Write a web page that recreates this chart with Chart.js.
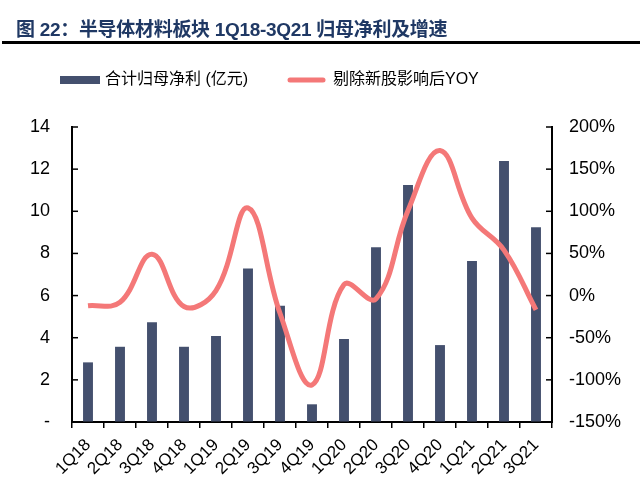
<!DOCTYPE html>
<html>
<head>
<meta charset="utf-8">
<script src="https://cdn.jsdelivr.net/npm/chart.js@4.4.3/dist/chart.umd.min.js"></script>
<style>
  body { margin: 0; background: #fff; }
  #wrap { position: relative; width: 640px; height: 494px; }
  #title {
    position: absolute; left: 16px; top: 14px;
    font: bold 19px "Liberation Sans", "Noto Sans CJK SC", sans-serif;
    letter-spacing: -0.3px;
    color: #1F3864; white-space: nowrap;
  }
  #rule { position: absolute; left: 2px; right: 0; top: 41px; height: 3px; background: #000; }
  canvas { position: absolute; left: 0; top: 0; }
</style>
</head>
<body>
<div id="wrap">
  <canvas id="myChart" width="640" height="494"></canvas>
  <div id="title">图 22：半导体材料板块 1Q18-3Q21 归母净利及增速</div>
  <div id="rule"></div>
</div>
<script>
const quarters = ['1Q18', '2Q18', '3Q18', '4Q18', '1Q19', '2Q19', '3Q19', '4Q19',
  '1Q20', '2Q20', '3Q20', '4Q20', '1Q21', '2Q21', '3Q21']
const profit = [2.83, 3.57, 4.73, 3.57, 4.08, 7.29, 5.52, 0.84, 3.94, 8.29, 11.25, 3.65, 7.64, 12.39, 9.24]
const yoy = [-12, -8, 49, -13, 6, 104, -21, -106, 13, -4, 101, 172, 92, 54, -17]
const leftTicks = [0, 2, 4, 6, 8, 10, 12, 14]
const rightTicks = [-150, -100, -50, 0, 50, 100, 150, 200]

const barColor = '#44506E'
const lineColor = '#F47878'
const font = '"Liberation Sans", Arial, sans-serif'

// legend drawn at fixed place, like the original
const legendPlugin = {
  id: 'fixedLegend',
  afterDraw(chart) {
    const ctx = chart.ctx
    const ds = chart.data.datasets
    ctx.save()
    ctx.font = '16px "Liberation Sans", "Noto Sans CJK SC", sans-serif'
    ctx.textBaseline = 'middle'
    ctx.fillStyle = barColor
    ctx.fillRect(60, 76, 40, 8)
    ctx.fillStyle = '#000'
    ctx.fillText(ds[0].label, 105, 80)
    ctx.strokeStyle = lineColor
    ctx.lineWidth = 5
    ctx.lineCap = 'round'
    ctx.beginPath()
    ctx.moveTo(290, 80)
    ctx.lineTo(323, 80)
    ctx.stroke()
    ctx.fillText(ds[1].label, 333, 80)
    ctx.restore()
  }
}

// short inward tick marks on both value axes
const innerTicks = {
  id: 'innerTicks',
  afterDraw(chart) {
    const ctx = chart.ctx
    const area = chart.chartArea
    ctx.save()
    ctx.strokeStyle = '#000'
    ctx.lineWidth = 1.5
    chart.scales.y.ticks.forEach(t => {
      const py = chart.scales.y.getPixelForValue(t.value)
      ctx.beginPath(); ctx.moveTo(area.left, py); ctx.lineTo(area.left + 6, py); ctx.stroke()
    })
    chart.scales.y1.ticks.forEach(t => {
      const py = chart.scales.y1.getPixelForValue(t.value)
      ctx.beginPath(); ctx.moveTo(area.right, py); ctx.lineTo(area.right - 6, py); ctx.stroke()
    })
    ctx.restore()
  }
}

const data = {
  labels: quarters,
  datasets: [{
    type: 'bar',
    label: '合计归母净利 (亿元)',
    data: profit,
    backgroundColor: barColor,
    categoryPercentage: 1,
    barPercentage: 0.31,
    yAxisID: 'y',
    order: 2
  }, {
    type: 'line',
    label: '剔除新股影响后YOY',
    data: yoy,
    borderColor: lineColor,
    backgroundColor: lineColor,
    borderWidth: 5,
    pointRadius: 0,
    tension: 0.4,
    yAxisID: 'y1',
    order: 1
  }]
}

const config = {
  data: data,
  plugins: [legendPlugin, innerTicks],
  options: {
    responsive: false,
    animation: false,
    layout: { padding: { top: 127, left: 0, right: 0, bottom: 0 } },
    plugins: { legend: { display: false }, tooltip: { enabled: false } },
    scales: {
      x: {
        grid: { display: true, drawOnChartArea: false, color: '#000', lineWidth: 1.5, tickLength: 6, offset: true },
        border: { color: '#000', width: 2 },
        ticks: { color: '#000', font: { family: font, size: 17 }, maxRotation: 45, minRotation: 45, padding: 7, autoSkip: false },
        afterFit: (s) => { s.height = 72 }
      },
      y: {
        position: 'left',
        min: 0, max: 14,
        afterBuildTicks: (s) => { s.ticks = leftTicks.map(v => ({ value: v })) },
        grid: { drawOnChartArea: false, drawTicks: false },
        border: { color: '#000', width: 2 },
        ticks: { color: '#000', font: { family: font, size: 18 }, padding: 22,
          callback: (v) => v === 0 ? '-' : v },
        afterFit: (s) => { s.width = 72 }
      },
      y1: {
        position: 'right',
        min: -150, max: 200,
        afterBuildTicks: (s) => { s.ticks = rightTicks.map(v => ({ value: v })) },
        grid: { drawOnChartArea: false, drawTicks: false },
        border: { color: '#000', width: 2 },
        ticks: { color: '#000', font: { family: font, size: 18 }, padding: 17,
          callback: (v) => v + '%' },
        afterFit: (s) => { s.width = 88 }
      }
    }
  }
}

new Chart(document.getElementById('myChart'), config)
</script>
</body>
</html>
